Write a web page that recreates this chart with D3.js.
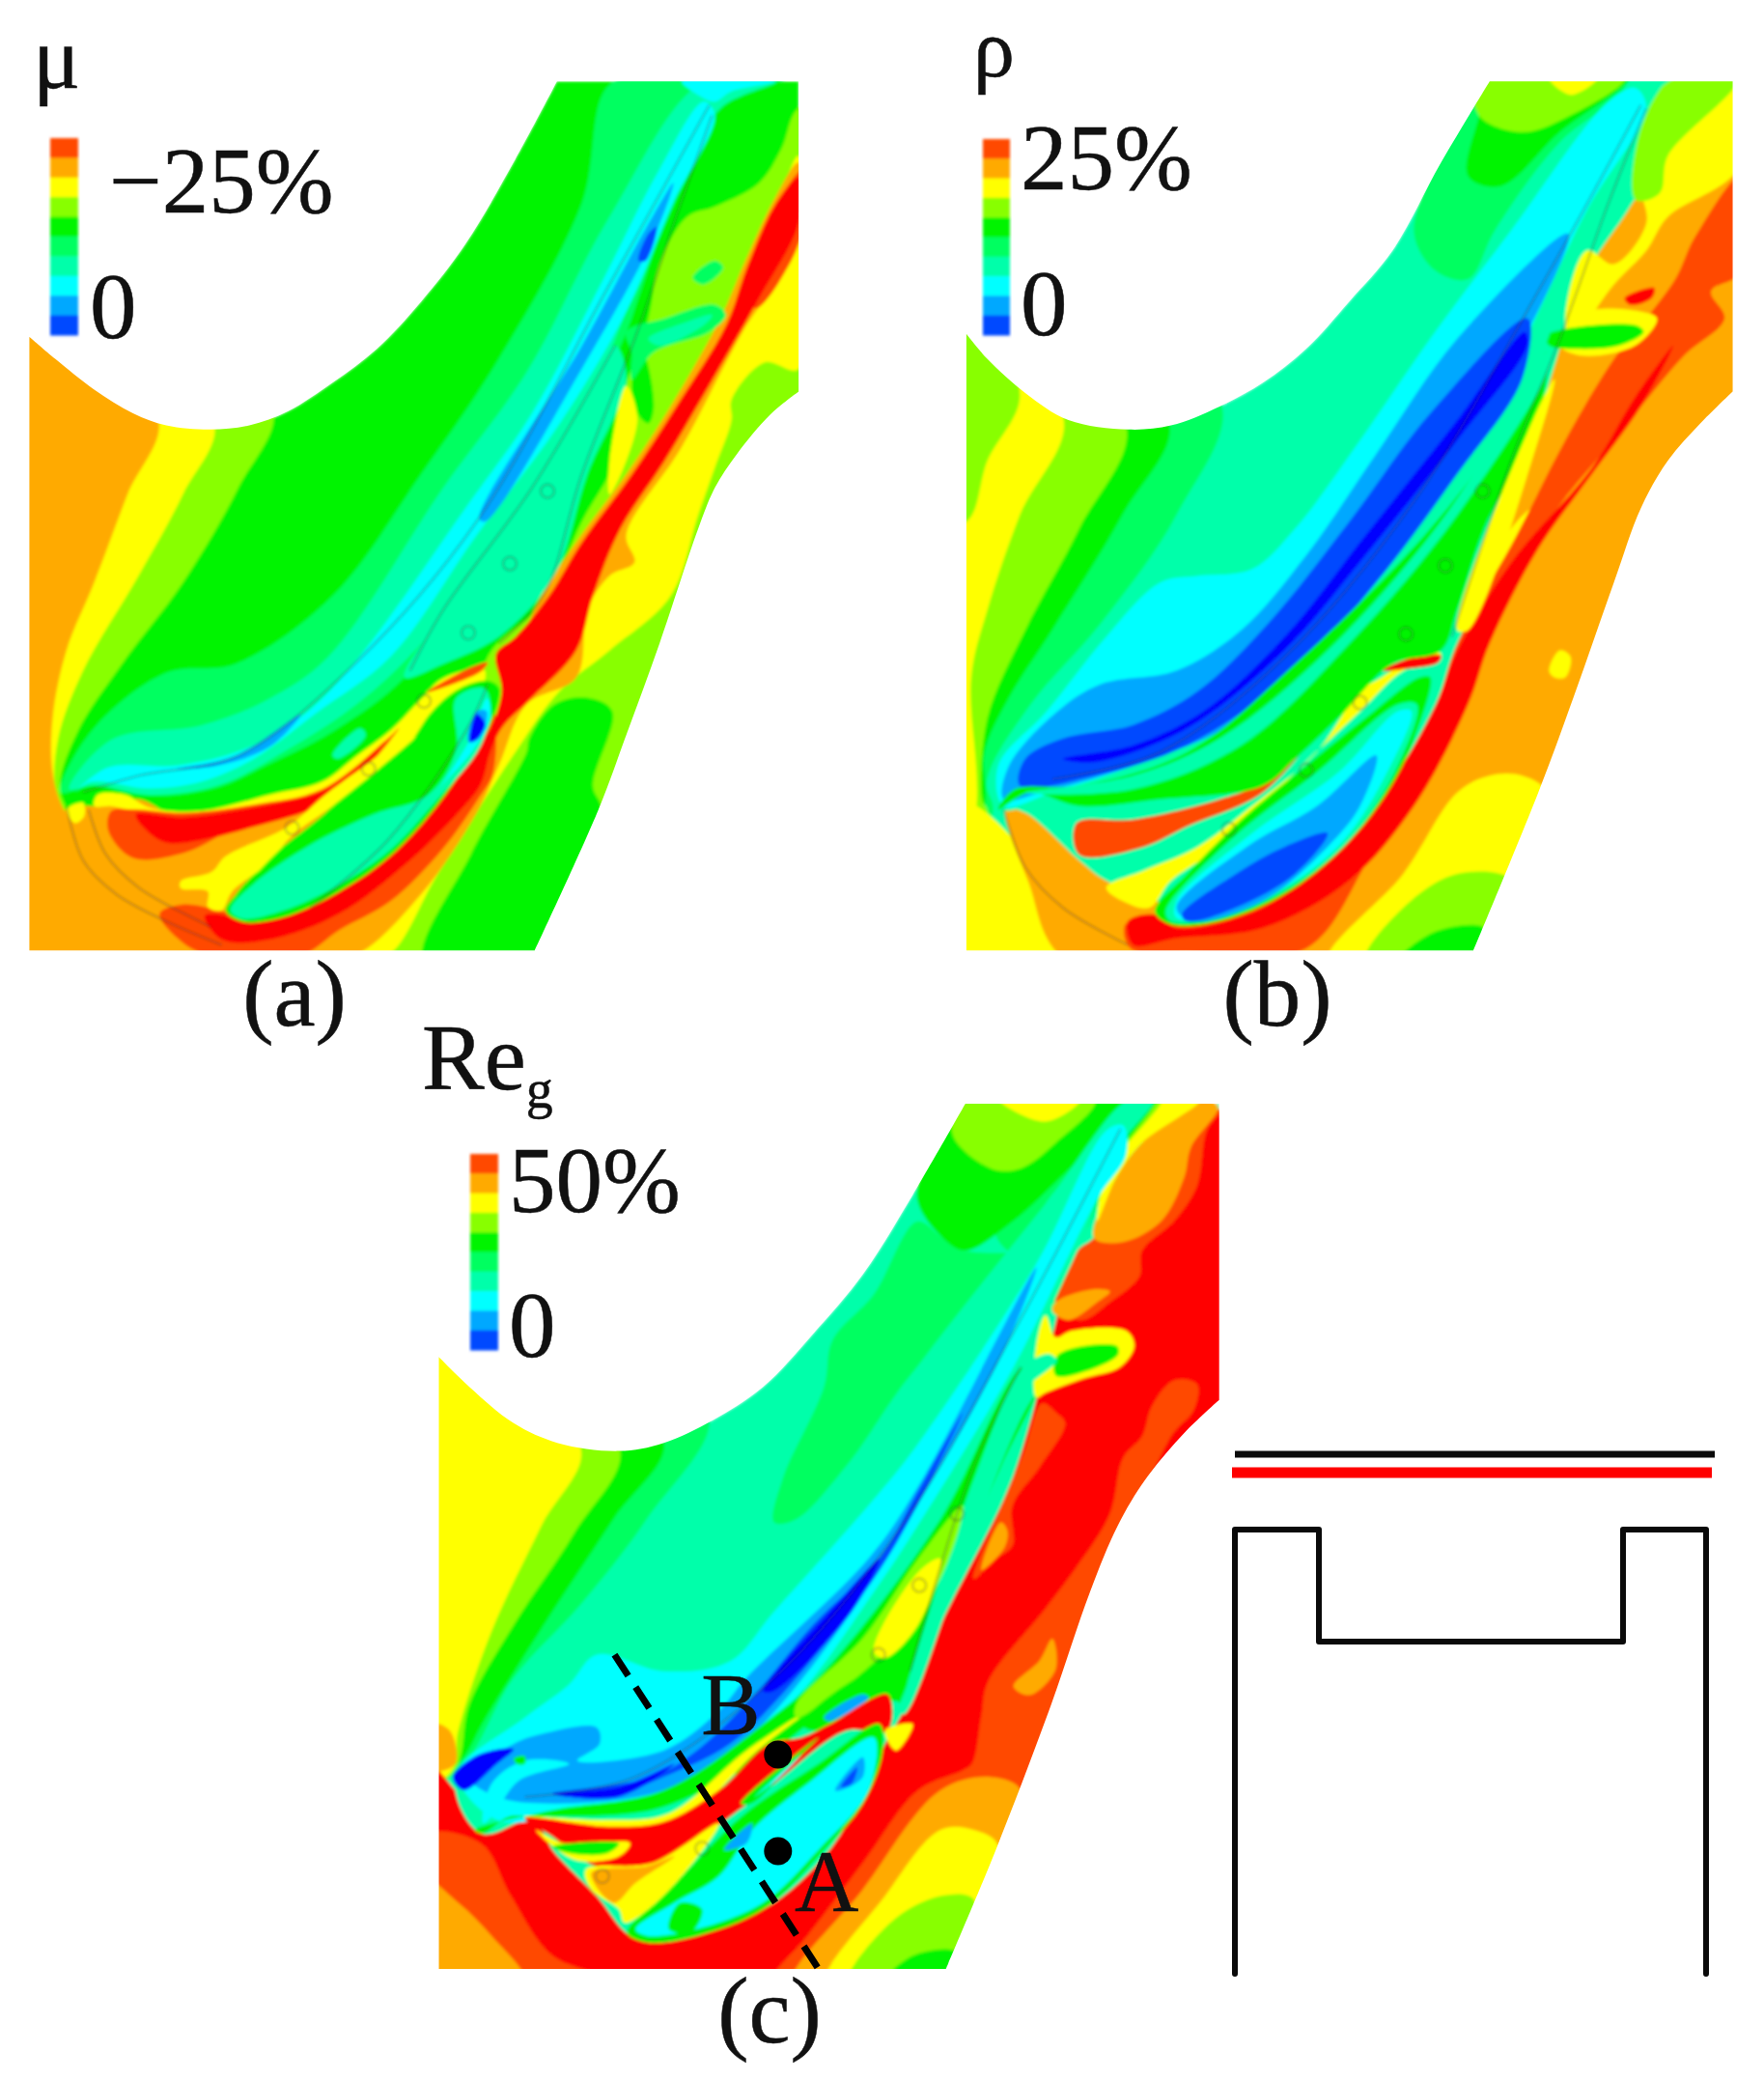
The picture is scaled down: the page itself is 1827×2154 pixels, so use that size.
<!DOCTYPE html>
<html><head><meta charset="utf-8">
<script src="https://cdn.jsdelivr.net/npm/d3@7"></script>
<style>html,body{margin:0;background:#fff}svg{display:block}text{font-family:"Liberation Serif",serif;fill:#111;stroke:#111;stroke-width:.5}</style>
</head><body><svg id="c" width="1827" height="2154"></svg>
<script>
const levelColors=['#0000ff','#0048ff','#00a8ff','#00ffff','#00ffaa','#00ff60','#00f400','#88ff00','#ffff00','#ffaa00','#ff4800','#ff0000'];
const legendLevels=[10,9,8,7,6,5,4,3,2,1];
const panelTitles=['μ','ρ','Re'];
const panelMaxLabels=['−25%','25%','50%'];
const zeroLabel='0';
const captions=['(a)','(b)','(c)'];

const upperA=[[53,497],[100,530],[170,575],[240,610],[300,628],[380,634],[450,628],[520,607],[600,565],[680,515],[760,445],[840,360],[930,235],[1005,120]];
const lowerA=[[1441,578],[1390,612],[1330,670],[1290,720],[1260,780],[1190,950],[1130,1085],[1080,1195],[965,1403]];
const cornersA=[[1441,120],[53,1403]];
const upperB=[[91,493],[130,530],[200,580],[280,620],[390,634],[470,628],[560,600],[640,565],[720,515],[800,445],[880,370],[970,240],[1060,120]];
const lowerB=[[1510,578],[1450,625],[1390,680],[1340,750],[1290,860],[1215,1030],[1150,1170],[1030,1403]];
const cornersB=[[1510,120],[91,1403]];
const upperC=[[95,475],[150,520],[230,575],[310,605],[420,617],[500,605],[590,570],[680,520],[770,440],[860,350],[950,230],[1045,92]];
const lowerC=[[1503,540],[1440,590],[1370,660],[1320,730],[1270,830],[1200,1000],[1100,1220],[1010,1400]];
const cornersC=[[1503,92],[95,1400]];

const bandsA=[
[7,[[490,600],[430,720],[330,860],[220,980],[140,1080],[108,1160],[125,1200],[200,1280],[350,1420],[0,1450],[0,450]]],
[8,[[385,620],[330,730],[250,850],[150,990],[105,1090],[100,1170],[120,1210],[300,1420],[0,1450],[0,450]]],
[9,[[285,615],[230,730],[170,860],[120,960],[95,1060],[95,1140],[115,1195],[190,1280],[290,1360],[400,1450],[0,1450],[0,450]]],
[9,[[120,1195],[190,1190],[250,1180],[330,1210],[470,1200],[600,1160],[700,1100],[600,1190],[470,1280],[420,1340],[640,1420],[100,1420],[50,1300]]],
[7,[[1441,160],[1410,220],[1370,270],[1290,305],[1240,320],[1190,390],[1170,470],[1130,570],[1110,680],[1050,770],[980,890],[880,970],[860,1100],[700,1300],[600,1450],[1100,1450],[1500,900],[1500,160]]],
[9,[[520,1430],[620,1360],[720,1290],[690,1380],[640,1430]]],
[6,[[765,1420],[850,1260],[950,1110],[955,1090],[1000,1040],[1060,1030],[1105,1050],[1070,1160],[1085,1195],[970,1420]]],
[6,[[1140,560],[1160,520],[1180,600],[1170,625],[1150,610]]],
[8,[[1441,230],[1380,360],[1300,490],[1220,620],[1130,770],[1020,900],[960,980],[880,1090],[800,1210],[640,1410],[700,1410],[790,1290],[930,1110],[1010,1020],[1100,960],[1210,880],[1260,760],[1290,690],[1320,620],[1320,590],[1380,535],[1441,545]]],
[9,[[1441,240],[1400,290],[1345,385],[1300,470],[1210,600],[1130,700],[1040,800],[970,890],[900,1050],[860,1130],[750,1270],[620,1390],[560,1410],[640,1410],[760,1320],[860,1200],[900,1130],[950,1040],[1040,1000],[1060,900],[1100,850],[1145,830],[1130,790],[1230,660],[1340,490],[1441,360]]],
[10,[[1450,250],[1390,320],[1345,440],[1365,455],[1450,340]]],
[10,[[288,1349],[332,1335],[440,1350],[560,1340],[720,1250],[860,1100],[890,1050],[890,1140],[860,1183],[798,1254],[705,1330],[612,1373],[543,1410],[375,1410],[320,1385]]],
[11,[[1441,262],[1400,300],[1350,390],[1310,480],[1220,600],[1140,700],[1050,800],[990,880],[930,940],[895,965],[905,1020],[885,1075],[854,1112],[786,1192],[705,1263],[612,1316],[512,1354],[438,1361],[400,1350],[369,1352],[400,1387],[487,1387],[612,1349],[736,1273],[830,1197],[867,1159],[885,1110],[905,1075],[960,1030],[1040,960],[1070,880],[1120,780],[1200,680],[1290,555],[1370,440],[1441,330]]],
[8,[[176,1173],[226,1173],[270,1192],[363,1197],[487,1173],[581,1154],[643,1116],[705,1078],[761,1031],[798,1002],[873,988],[873,1005],[800,1030],[720,1100],[640,1140],[581,1180],[363,1215],[250,1200],[200,1190],[170,1190]]],
[8,[[120,1195],[150,1185],[152,1205],[135,1215]]],
[10,[[201,1197],[245,1195],[332,1200],[456,1188],[581,1165],[700,1090],[720,1075],[640,1150],[550,1185],[425,1222],[332,1259],[239,1266],[195,1225]]],
[11,[[245,1202],[332,1206],[456,1192],[581,1168],[643,1135],[693,1095],[662,1130],[581,1187],[456,1221],[363,1240],[301,1244],[263,1225]]],
[8,[[326,1301],[382,1287],[407,1264],[518,1221],[587,1173],[705,1100],[786,1031],[873,997],[873,1010],[790,1060],[720,1110],[600,1190],[525,1235],[487,1273],[419,1316],[400,1344],[375,1339],[375,1316],[326,1311]]],
[10,[[770,1022],[850,985],[880,978],[870,990],[800,1015]]],
[5,[[1130,490],[1200,470],[1290,450],[1310,465],[1280,490],[1180,520],[1140,560],[1140,520]]],
[4,[[1170,500],[1240,475],[1285,465],[1270,480],[1190,510]]],
[5,[[1250,410],[1290,385],[1305,395],[1270,420]]],
[5,[[1100,125],[1220,115],[1420,115],[1300,150],[1230,250],[1160,420],[1120,510],[1000,690],[850,860],[730,1000],[600,1080],[480,1130],[394,1162],[270,1175],[170,1160],[110,1170],[114,1149],[176,1069],[301,993],[425,980],[600,880],[760,700],[900,530],[1050,300]]],
[4,[[1270,120],[1400,120],[1300,160],[1210,300],[1120,480],[1060,600],[900,800],[760,950],[643,1040],[518,1107],[394,1159],[270,1173],[170,1159],[125,1165],[201,1092],[363,1071],[487,1031],[593,969],[800,720],[950,550],[1100,320]]],
[3,[[1270,150],[1290,170],[1215,300],[1130,460],[1010,625],[860,790],[705,969],[568,1054],[456,1121],[363,1154],[270,1164],[164,1154],[135,1170],[195,1133],[319,1130],[438,1107],[550,1054],[649,969],[840,750],[960,610],[1090,410],[1190,250]]],
[3,[[1230,120],[1400,120],[1320,135],[1290,150],[1270,145]]],
[2,[[1215,270],[1180,350],[1060,530],[875,770],[865,765],[1050,510],[1170,330]]],
[2,[[319,1135],[425,1116],[543,1054],[487,1102],[394,1130]]],
[1,[[1185,335],[1165,385],[1152,385],[1170,345]]],
[4,[[1110,510],[1130,560],[1060,700],[1000,850],[900,940],[800,980],[730,1000],[830,870],[950,720],[1060,590]]],
[8,[[1130,570],[1100,680],[1100,730],[1150,620]]],
[4,[[600,1115],[650,1075],[660,1085],[610,1120]]],
[6,[[407,1344],[450,1301],[525,1240],[599,1202],[693,1154],[780,1050],[830,1016],[880,1005],[901,1016],[885,1069],[854,1112],[786,1192],[705,1263],[612,1316],[512,1354],[438,1361]]],
[4,[[416,1344],[456,1306],[556,1249],[674,1202],[773,1173],[823,1107],[823,1031],[873,1016],[885,1040],[867,1102],[786,1183],[705,1254],[612,1306],[512,1344],[438,1356]]],
[3,[[786,1173],[848,1092],[879,1031],[885,1059],[854,1107],[798,1159]]],
[2,[[845,1095],[860,1050],[878,1050],[865,1090]]],
[0,[[848,1095],[860,1054],[876,1069],[860,1092]]]
];
const holesA=[[988,725],[920,832],[845,934],[765,1035],[665,1135],[527,1222]];
const linesA=[[[120,1190],[150,1270],[210,1320],[300,1360],[400,1395]],[[160,1195],[190,1260],[250,1310],[380,1368]],[[1285,170],[1220,320],[1150,490],[1050,700],[980,880],[900,950]],[[1280,155],[1100,420],[860,770],[640,980],[430,1115],[250,1145],[150,1170]],[[1110,510],[960,720],[800,900],[740,990]],[[880,1010],[840,1080],[700,1240],[560,1340]]];

const bandsB=[
[5,[[560,590],[480,760],[340,920],[210,1040],[130,1150],[140,1200],[60,1300],[0,900],[0,450]]],
[6,[[465,620],[380,760],[250,930],[170,1030],[125,1110],[125,1190],[60,1300],[0,900],[0,450]]],
[7,[[385,625],[300,780],[200,930],[130,1060],[120,1180],[130,1200],[0,1300],[0,450]]],
[8,[[270,615],[190,760],[130,900],[100,1000],[110,1190],[60,1420],[0,1420],[0,450]]],
[7,[[91,770],[130,680],[190,585],[130,480],[0,480],[0,770]]],
[8,[[110,1190],[320,1430],[40,1430],[40,1190]]],
[9,[[1380,250],[1300,330],[1220,430],[1195,500],[1150,620],[1100,750],[1020,920],[980,1000],[900,1160],[740,1330],[500,1340],[350,1300],[300,1270],[200,1200],[165,1195],[205,1300],[280,1420],[1100,1450],[1600,900],[1600,200]]],
[8,[[1450,110],[1380,200],[1340,270],[1350,330],[1290,390],[1240,370],[1200,470],[1210,500],[1290,420],[1350,370],[1390,320],[1520,250],[1560,100]]],
[7,[[1400,110],[1340,190],[1330,295],[1375,285],[1390,230],[1520,115],[1450,100]]],
[8,[[1160,740],[1100,840],[1050,900],[1040,870],[1110,770]]],
[8,[[1170,990],[1190,960],[1210,970],[1200,1000],[1180,1000]]],
[8,[[760,1420],[900,1290],[1000,1170],[1060,1145],[1120,1145],[1165,1170],[1100,1300],[1030,1420]]],
[7,[[830,1420],[900,1340],[1000,1290],[1100,1300],[1030,1420]]],
[6,[[890,1420],[960,1375],[1050,1370],[1030,1420]]],
[5,[[920,345],[960,400],[1020,412],[1070,340],[1190,210],[1340,110],[1040,90],[960,240]]],
[6,[[1040,170],[1020,260],[1080,275],[1190,195],[1320,110],[1060,100]]],
[7,[[1040,110],[1040,170],[1120,195],[1210,170],[1310,115]]],
[8,[[1170,115],[1210,140],[1260,115]]],
[10,[[1530,255],[1440,350],[1405,410],[1350,470],[1290,530],[1200,650],[1110,790],[1000,950],[950,1060],[780,1250],[620,1340],[440,1352],[385,1365],[395,1400],[500,1405],[720,1400],[850,1250],[980,1100],[1040,960],[1120,830],[1190,745],[1300,640],[1420,525],[1495,470],[1470,430],[1530,400]]],
[11,[[1000,960],[1100,830],[1250,690],[1330,585],[1400,510],[1340,600],[1240,710],[1150,810],[1060,950],[1020,1040],[920,1190],[800,1300],[640,1370],[480,1385],[400,1395],[390,1360],[440,1350],[480,1370],[640,1340],[760,1260],[880,1150],[960,1040]]],
[10,[[295,1215],[400,1210],[560,1180],[640,1155],[730,1090],[640,1170],[500,1220],[420,1250],[300,1262]]],
[8,[[350,1310],[420,1285],[520,1250],[620,1190],[740,1110],[820,1020],[860,1000],[930,965],[970,965],[960,975],[900,990],[820,1050],[700,1140],[580,1240],[470,1300],[430,1340],[380,1330]]],
[11,[[860,990],[920,970],[970,968],[965,978],[900,988]]],
[8,[[1200,490],[1240,460],[1340,460],[1370,470],[1330,510],[1230,525],[1190,510]]],
[6,[[1165,495],[1330,480],[1345,490],[1300,510],[1220,515],[1170,510]]],
[11,[[1310,440],[1365,425],[1360,440],[1320,450]]],
[4,[[1330,110],[1420,100],[1330,160],[1250,280],[1190,450],[1090,640],[900,850],[760,960],[620,1070],[540,1140],[400,1175],[250,1180],[155,1195],[130,1150],[300,1100],[700,800],[1100,400],[1280,180]]],
[3,[[150,1130],[240,1050],[350,940],[450,860],[520,850],[620,840],[700,780],[820,650],[950,500],[1100,340],[1280,150],[1330,130],[1350,160],[1240,310],[1100,540],[950,730],[800,880],[600,1050],[400,1130],[250,1170],[160,1190]]],
[2,[[170,1130],[260,1050],[340,1010],[480,990],[600,930],[720,820],[850,670],[1000,500],[1205,345],[1110,520],[950,720],[780,900],[600,1060],[400,1130],[230,1170],[160,1180]]],
[1,[[200,1120],[270,1090],[400,1070],[520,1020],[650,920],[800,770],[950,610],[1130,470],[1120,560],[1000,700],[850,860],[700,990],[500,1100],[330,1145],[190,1160]]],
[0,[[270,1120],[400,1100],[530,1050],[680,940],[830,790],[1000,620],[1125,490],[1130,510],[1000,650],[830,820],[680,960],[500,1075],[330,1125]]],
[6,[[1165,520],[1150,620],[1050,780],[1000,900],[970,960],[880,980],[780,1060],[700,1120],[640,1160],[450,1180],[300,1190],[210,1170],[150,1195],[180,1165],[300,1160],[500,1110],[700,980],[950,780],[1100,620]]],
[4,[[200,1170],[400,1145],[560,1090],[760,960],[960,780],[1100,610],[1165,520],[1170,540],[1000,760],[800,950],[600,1100],[400,1165]]],
[8,[[1180,560],[1140,620],[1000,930],[1020,930],[1150,650]]],
[6,[[440,1345],[500,1290],[600,1210],[720,1130],[830,1060],[930,1000],[950,1000],[920,1090],[870,1170],[790,1250],[680,1320],[560,1360],[470,1365]]],
[4,[[460,1345],[580,1240],[740,1140],[890,1040],[925,1040],[890,1130],[800,1240],[680,1315],[560,1355],[470,1360]]],
[3,[[480,1330],[620,1230],[780,1140],[890,1050],[915,1050],[870,1140],[790,1240],[680,1310],[560,1350],[480,1355]]],
[2,[[480,1340],[610,1250],[740,1190],[850,1115],[820,1190],[760,1250],[640,1330],[510,1360]]],
[1,[[490,1350],[590,1290],[680,1250],[760,1230],[700,1290],[590,1340],[500,1360]]]
];
const holesB=[[1047,725],[978,835],[905,936],[820,1037],[720,1137],[577,1224]];
const linesB=[[[160,1195],[200,1280],[270,1340],[390,1395]],[[1350,160],[1280,300],[1190,500],[1100,680],[990,940]],[[1340,155],[1150,430],[920,740],[680,970],[450,1110],[250,1150]]];

const bandsC=[
[5,[[580,560],[470,720],[350,850],[230,960],[130,1100],[0,1150],[0,450]]],
[6,[[500,600],[410,720],[300,860],[180,1020],[125,1095],[0,1150],[0,450]]],
[7,[[420,610],[340,740],[230,880],[150,1000],[122,1100],[0,1150],[0,450]]],
[8,[[350,610],[280,730],[190,890],[130,1040],[118,1100],[0,1150],[0,450]]],
[5,[[700,725],[715,660],[790,520],[805,450],[880,380],[958,270],[1004,295],[1045,314],[1161,327],[958,490],[830,640],[740,720]]],
[5,[[1161,327],[1190,243],[1340,120],[1364,85],[1225,85],[1100,290]]],
[6,[[958,236],[1004,295],[1045,314],[1132,269],[1225,197],[1364,85],[1040,60],[980,170]]],
[7,[[1045,80],[1022,138],[1092,190],[1144,190],[1208,151],[1280,85]]],
[8,[[1105,85],[1190,119],[1254,85]]],
[11,[[1510,100],[1440,200],[1370,270],[1290,310],[1240,340],[1200,450],[1160,580],[1120,680],[1000,880],[940,1000],[900,1060],[880,1100],[800,1220],[680,1310],[500,1360],[440,1350],[380,1290],[300,1220],[280,1190],[240,1165],[200,1180],[175,1190],[125,1130],[60,1080],[60,1450],[1100,1450],[1600,700],[1600,100]]],
[10,[[60,1200],[170,1210],[225,1290],[300,1380],[420,1420],[60,1430]]],
[9,[[60,1260],[130,1300],[190,1350],[250,1420],[60,1430]]],
[9,[[85,1030],[115,1040],[125,1090],[85,1100]]],
[10,[[1422,510],[1463,516],[1457,555],[1420,590],[1370,670],[1320,740],[1280,830],[1210,1010],[1110,1230],[1010,1430],[700,1430],[700,1410],[760,1350],[860,1240],[960,1130],[1040,1100],[1057,1090],[1074,1018],[1086,966],[1190,855],[1248,790],[1306,712],[1330,627],[1364,595],[1382,549]]],
[10,[[1510,100],[1481,132],[1463,216],[1422,269],[1364,314],[1359,353],[1306,392],[1254,419],[1208,396],[1248,314],[1277,295],[1400,150]]],
[9,[[1277,295],[1330,301],[1399,269],[1440,203],[1452,158],[1501,96],[1457,88],[1364,151],[1318,203]]],
[8,[[1390,85],[1470,85],[1364,151],[1318,203],[1283,270],[1300,190],[1340,130]]],
[7,[[1370,85],[1400,85],[1340,150],[1300,190],[1285,240],[1290,170],[1320,130]]],
[10,[[1184,545],[1210,560],[1225,575],[1180,640],[1130,700],[1130,760],[1100,780],[1060,810],[1100,720],[1150,620]]],
[9,[[1109,725],[1121,738],[1115,764],[1074,797]]],
[9,[[1132,973],[1179,934],[1202,901],[1208,947],[1161,986]]],
[9,[[730,1430],[860,1280],[1000,1130],[1090,1110],[1145,1130],[1100,1230],[1020,1430]]],
[8,[[790,1430],[900,1290],[1000,1190],[1060,1190],[1105,1215],[1020,1430]]],
[7,[[830,1430],[910,1330],[1000,1290],[1060,1295],[1020,1430]]],
[6,[[890,1430],[950,1380],[1030,1375],[1010,1430]]],
[6,[[1364,85],[1390,85],[1320,170],[1270,270],[1190,420],[1150,490],[1050,690],[940,990],[905,990],[1050,640],[1220,340]]],
[4,[[1340,85],[1385,85],[1320,160],[1260,290],[1200,400],[1120,560],[960,760],[760,980],[620,1080],[480,1150],[280,1165],[170,1195],[125,1105],[300,1000],[700,800],[958,490],[1190,243]]],
[3,[[130,1105],[250,1020],[330,970],[380,925],[500,950],[620,935],[700,860],[880,690],[958,608],[1173,334],[1300,132],[1330,125],[1335,170],[1283,236],[1132,490],[958,731],[880,830],[740,990],[640,1060],[500,1130],[300,1170],[200,1175]]],
[2,[[150,1110],[230,1060],[280,1045],[380,1035],[385,1060],[345,1085],[500,1070],[600,1010],[650,960],[870,780],[958,673],[1173,340],[1115,464],[958,700],[780,930],[640,1060],[500,1130],[300,1150],[200,1140]]],
[3,[[190,1120],[250,1085],[330,1090],[240,1115],[195,1165],[175,1180]]],
[1,[[660,990],[770,880],[890,780],[958,680],[1040,560],[958,700],[880,810],[730,970],[620,1060],[500,1110],[400,1140],[300,1135],[480,1110],[560,1070]]],
[0,[[120,1110],[170,1075],[230,1068],[200,1090],[140,1130]]],
[0,[[680,980],[800,860],[890,780],[840,860],[700,980]]],
[0,[[300,1135],[420,1125],[520,1090],[420,1140]]],
[6,[[230,1082],[250,1078],[250,1090],[235,1090]]],
[6,[[160,1190],[300,1160],[500,1130],[680,1030],[790,950],[1000,720],[1150,490],[1180,500],[1110,640],[980,880],[940,1000],[905,990],[800,1010],[700,1070],[620,1110],[480,1160],[280,1170],[220,1170],[175,1195]]],
[8,[[250,1170],[400,1175],[510,1165],[650,1070],[760,1010],[670,1070],[520,1185],[380,1190]]],
[4,[[1190,470],[1150,490],[1060,660],[940,970],[925,1010],[935,1015],[1060,740],[1150,560],[1200,490]]],
[7,[[740,1000],[860,900],[960,780],[1040,700],[1000,810],[900,920],[800,990],[740,1020]]],
[8,[[880,920],[960,800],[1000,780],[960,880],[900,930]]],
[6,[[750,1030],[850,960],[900,950],[900,975],[800,1030],[770,1040]]],
[2,[[790,1020],[860,985],[870,990],[800,1025]]],
[11,[[250,1172],[400,1185],[500,1178],[600,1130],[690,1060],[750,1050],[800,1030],[905,985],[905,1040],[830,1040],[700,1120],[620,1170],[500,1240],[380,1245],[300,1200]]],
[9,[[1208,392],[1272,373],[1306,376],[1283,392],[1231,419],[1202,405]]],
[8,[[1173,458],[1190,412],[1208,445],[1237,435],[1335,435],[1350,458],[1324,490],[1260,507],[1190,529],[1173,536]]],
[6,[[1213,471],[1318,458],[1321,471],[1283,490],[1208,503]]],
[4,[[1150,490],[1195,470],[1210,480],[1170,510],[1140,530]]],
[8,[[270,1190],[320,1210],[440,1210],[420,1230],[340,1235]]],
[6,[[300,1215],[420,1210],[400,1225],[330,1225]]],
[8,[[360,1250],[480,1240],[600,1180],[500,1290],[430,1330],[420,1310],[370,1280]]],
[9,[[370,1255],[470,1245],[520,1230],[450,1270],[410,1300]]],
[8,[[900,1040],[950,1030],[920,1070]]],
[6,[[435,1345],[500,1290],[640,1170],[780,1090],[890,1030],[895,1075],[860,1150],[790,1220],[680,1310],[560,1350],[470,1360]]],
[3,[[450,1340],[520,1300],[600,1260],[660,1190],[760,1120],[880,1050],[870,1130],[780,1220],[680,1300],[560,1340],[470,1350]]],
[6,[[510,1340],[530,1300],[570,1310],[550,1345]]],
[2,[[610,1220],[660,1180],[650,1210]]],
[2,[[810,1130],[860,1080],[860,1110],[820,1130]]],
[1,[[820,1125],[850,1095],[840,1120]]],
[6,[[640,1150],[780,1050],[720,1100],[660,1150]]],
[3,[[665,1140],[750,1075],[710,1110]]]
];
const holesC=[[1030,712],[962,820],[888,925],[570,1218],[390,1260]];
const linesC=[[[1325,130],[1130,440],[930,730],[700,960],[450,1110],[250,1140]],[[1145,490],[1060,640],[945,950]]];
const dashLine=[[412,925],[780,1400]];
const markers=[[707,1076],[707,1222]];
const pointLabels=[['B',622,1045],['A',795,1312]];

const lineTopBlack=[[0,0],[497,0]];
const lineTopRed=[[-3,19],[494,19]];
const channel=[[0,538],[0,78],[87,78],[87,194],[402,194],[402,78],[488,78],[488,538]];

const svg=d3.select('#c');
const defs=svg.append('defs');
defs.append('filter').attr('id','soft').attr('x','-5%').attr('y','-5%').attr('width','110%').attr('height','110%')
  .append('feGaussianBlur').attr('stdDeviation',1.6);
const blob=d3.line().curve(d3.curveCatmullRomClosed.alpha(0.5));
const smooth=d3.line().curve(d3.curveCatmullRom.alpha(0.5));

function panel(id,xR,yR,upper,lower,corners,bands,holes,lines){
  const x=d3.scaleLinear().domain([0,1568]).range(xR);
  const y=d3.scaleLinear().domain([0,1568]).range(yR);
  const P=p=>p.map(d=>[x(d[0]),y(d[1])]);
  const path=smooth(P(upper))+'L'+x(corners[0][0])+','+y(corners[0][1])+smooth(P(lower)).replace(/^M/,'L')
    +'L'+x(corners[1][0])+','+y(corners[1][1])+'Z';
  defs.append('clipPath').attr('id','clip'+id).append('path').attr('d',path);
  const g=svg.append('g').attr('clip-path','url(#clip'+id+')').append('g').attr('filter','url(#soft)');
  g.append('path').attr('d',path).attr('fill',id==='A'?levelColors[6]:levelColors[4]);
  g.selectAll('path.band').data(bands).join('path').attr('class','band')
    .attr('d',d=>blob(P(d[1]))).attr('fill',d=>levelColors[d[0]]);
  const o=g.append('g').attr('fill','none').attr('stroke','#333').attr('stroke-opacity',.3).attr('stroke-width',2.2);
  o.selectAll('circle').data(holes).join('circle').attr('cx',d=>x(d[0])).attr('cy',d=>y(d[1])).attr('r',7);
  o.selectAll('path').data(lines).join('path').attr('d',d=>smooth(P(d)));
}
panel('A',[0,900],[0,1100],upperA,lowerA,cornersA,bandsA,holesA,linesA);
panel('B',[950,1827],[0,1100],upperB,lowerB,cornersB,bandsB,holesB,linesB);
panel('C',[400,1300],[1080,2154],upperC,lowerC,cornersC,bandsC,holesC,linesC);

function legend(x0,x1,y0,y1){
  const b=d3.scaleBand().domain(legendLevels).range([y0,y1]);
  svg.append('g').attr('filter','url(#soft)').selectAll('rect').data(legendLevels).join('rect')
    .attr('x',x0).attr('width',x1-x0).attr('y',d=>b(d)).attr('height',b.bandwidth()+.5).attr('fill',d=>levelColors[d]);
}
legend(52,81,143,347);legend(1018,1046,144,347);legend(487,516,1195,1398);

const T=(s,x,y,fs,a)=>svg.append('text').text(s).attr('x',x).attr('y',y).attr('font-size',fs).attr('text-anchor',a||'start');
T(panelTitles[0],34,91,92);T(panelTitles[1],1008,79,86);
const re=T(panelTitles[2],437,1128,97);
re.append('tspan').text('g').attr('font-size',56).attr('dy',19);
T(panelMaxLabels[0],113,220,97);T(zeroLabel,93,350,97);
T(panelMaxLabels[1],1057,196,97);T(zeroLabel,1057,347,97);
T(panelMaxLabels[2],527,1255,97);T(zeroLabel,527,1405,97);
T(captions[0],305,1062,97,'middle');T(captions[1],1323,1062,97,'middle');T(captions[2],797,2115,97,'middle');

const xc=d3.scaleLinear().domain([0,1568]).range([400,1300]);
const yc=d3.scaleLinear().domain([0,1568]).range([1080,2154]);
svg.append('line').attr('x1',xc(dashLine[0][0])).attr('y1',yc(dashLine[0][1])).attr('x2',xc(dashLine[1][0])).attr('y2',yc(dashLine[1][1]))
  .attr('stroke','#000').attr('stroke-width',7).attr('stroke-dasharray','26 14');
svg.selectAll('circle.m').data(markers).join('circle').attr('class','m').attr('cx',d=>xc(d[0])).attr('cy',d=>yc(d[1])).attr('r',14.5).attr('fill','#000');
svg.selectAll('text.p').data(pointLabels).join('text').attr('class','p').text(d=>d[0]).attr('x',d=>xc(d[1])).attr('y',d=>yc(d[2]))
  .attr('text-anchor','middle').attr('font-size',92);

const xs=d3.scaleLinear().domain([0,497]).range([1279,1776]);
const ys=d3.scaleLinear().domain([0,538]).range([1506,2044]);
const ln=d3.line().x(d=>xs(d[0])).y(d=>ys(d[1]));
svg.append('path').attr('d',ln(lineTopBlack)).attr('stroke','#0a0a0a').attr('stroke-width',7).attr('fill','none');
svg.append('path').attr('d',ln(lineTopRed)).attr('stroke','#ff0000').attr('stroke-width',11).attr('fill','none');
svg.append('path').attr('d',ln(channel)).attr('stroke','#0a0a0a').attr('stroke-width',6).attr('fill','none').attr('stroke-linejoin','round').attr('stroke-linecap','round');
</script></body></html>
